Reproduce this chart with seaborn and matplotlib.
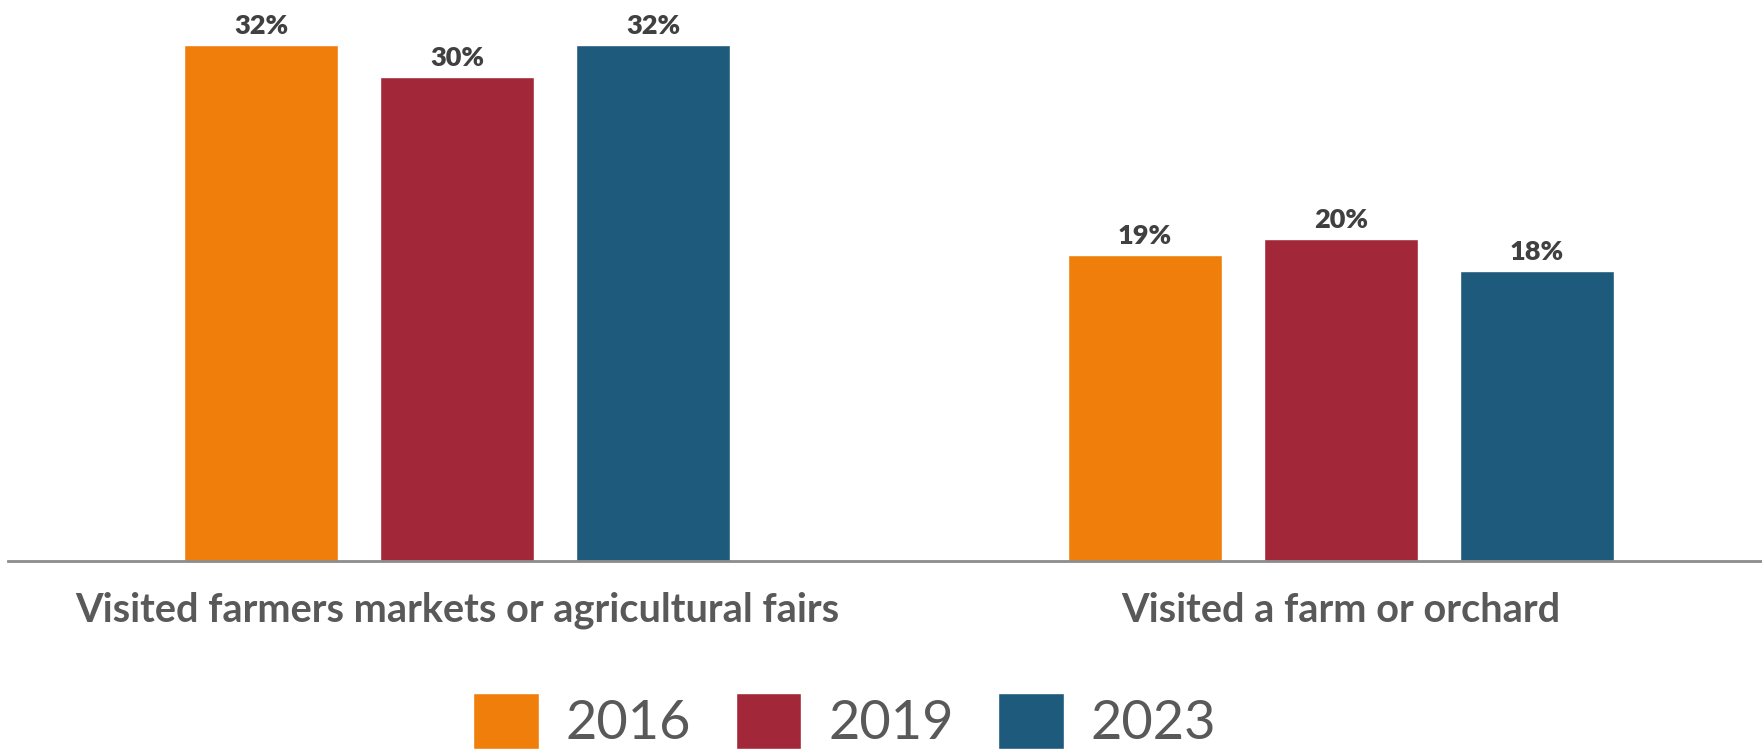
import matplotlib
matplotlib.use("Agg")
import matplotlib.pyplot as plt
import seaborn as sns
import pandas as pd

# Share of respondents, by activity and survey year
categories = ["Visited farmers markets or agricultural fairs", "Visited a farm or orchard"]
years = ["2016", "2019", "2023"]
values_2016 = [32, 19]
values_2019 = [30, 20]
values_2023 = [32, 18]
palette = ["#EF7F0A", "#A22839", "#1E5A7C"]

rows = []
for year, vals in zip(years, [values_2016, values_2019, values_2023]):
    for cat, v in zip(categories, vals):
        rows.append({"category": cat, "year": year, "value": v})
df = pd.DataFrame(rows)

sns.set_theme(style="white")
plt.rcParams["font.family"] = ["Lato", "DejaVu Sans"]

fig = plt.figure(figsize=(17.62, 7.5), dpi=100)
ax = fig.add_axes([0.0045, 0.252, 0.9955, 0.748])

sns.barplot(data=df, x="category", y="value", hue="year", hue_order=years,
            order=categories, palette=palette, width=0.665, gap=0.214,
            saturation=1, ax=ax)

ax.set_xlim(-0.508, 1.476)
ax.set_ylim(0, 34.8)

for container in ax.containers:
    ax.bar_label(container, labels=[f"{v:.0f}%" for v in container.datavalues],
                 padding=5, fontsize=19.5, fontweight="heavy", color="#404040")

for side in ["top", "left", "right"]:
    ax.spines[side].set_visible(False)
ax.spines["bottom"].set_color("#8C8C8C")
ax.spines["bottom"].set_linewidth(2)
ax.set_yticks([])
ax.set_xlabel("")
ax.set_ylabel("")
ax.tick_params(axis="x", length=0, pad=22, labelsize=28.6, labelcolor="#595959")
for lbl in ax.get_xticklabels():
    lbl.set_fontweight("bold")

sns.move_legend(ax, "center", bbox_to_anchor=(0.4795, 0.039),
                bbox_transform=fig.transFigure, ncol=3, frameon=False,
                title=None, fontsize=39, handlelength=1.21, handleheight=1.21,
                handletextpad=0.5, columnspacing=0.82, borderpad=0)
for t in ax.get_legend().get_texts():
    t.set_color("#595959")

fig.savefig("out.png", dpi=100)
